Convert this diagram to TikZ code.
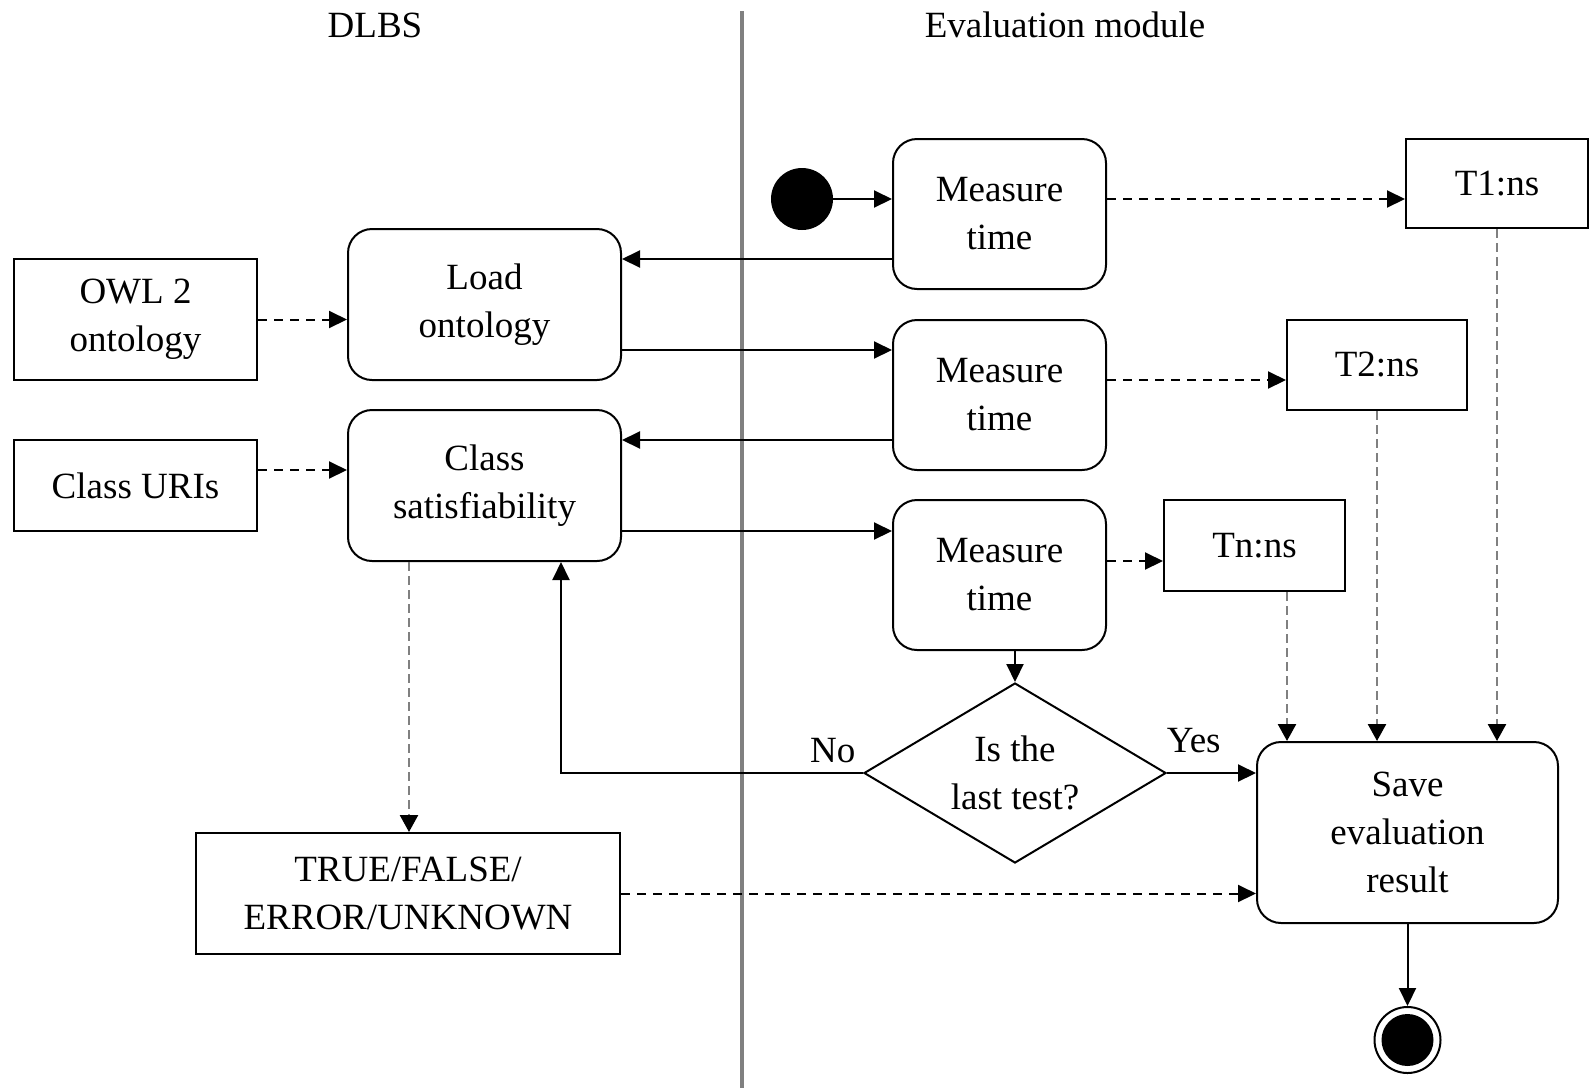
\documentclass[tikz,border=0pt]{standalone}
\usepackage{fontspec}
\setmainfont{Liberation Serif}
\usetikzlibrary{shapes.geometric,arrows.meta}

\tikzset{
  act/.style={draw, line width=2pt, rounded corners=24pt, align=center, inner sep=0pt},
  obj/.style={draw, line width=2pt, align=center, inner sep=0pt},
  flow/.style={line width=2pt, -{Triangle[length=18pt,width=17pt]}},
  data/.style={flow, dash pattern=on 9pt off 7pt},
  gdata/.style={line width=2.5pt, draw=gray, dash pattern=on 9pt off 5pt,
    -{Triangle[length=17pt,width=18pt,color=black]}}
}

\begin{document}
\begin{tikzpicture}[x=1pt, y=-1pt, font=\fontsize{37}{48}\selectfont]
    \useasboundingbox (0,0) rectangle (1591,1088);
    % swimlanes
    \draw[gray, line width=4pt] (742,11) -- (742,1088);
    \node (dlbs) at (375,25) {DLBS};
    \node (eval) at (1065,25) {Evaluation module};

    % DLBS side
    \node[obj, minimum width=243pt, minimum height=121pt] (owl) at (135.5,319.5) {OWL 2\\ontology};
    \node[obj, minimum width=243pt, minimum height=91pt] (uris) at (135.5,485.5) {Class URIs};
    \node[act, minimum width=273pt, minimum height=151pt] (load) at (484.5,304.5) {Load\\ontology};
    \node[act, minimum width=273pt, minimum height=151pt] (sat) at (484.5,485.5) {Class\\satisfiability};
    \node[obj, minimum width=424pt, minimum height=121pt] (res) at (408,893.5) {TRUE/FALSE/\\ERROR/UNKNOWN};

    % evaluation side
    \node[circle, fill=black, minimum size=62pt, inner sep=0pt] (init) at (802,199) {};
    \node[act, minimum width=213pt, minimum height=150pt] (mt1) at (999.5,214) {Measure\\time};
    \node[act, minimum width=213pt, minimum height=150pt] (mt2) at (999.5,395) {Measure\\time};
    \node[act, minimum width=213pt, minimum height=150pt] (mt3) at (999.5,575) {Measure\\time};
    \node[obj, minimum width=182pt, minimum height=89pt] (t1) at (1497,183.5) {T1:ns};
    \node[obj, minimum width=180pt, minimum height=90pt] (t2) at (1377,365) {T2:ns};
    \node[obj, minimum width=181pt, minimum height=91pt] (tn) at (1254.5,545.5) {Tn:ns};
    \node[diamond, aspect=1.68, draw, line width=2pt, minimum width=302pt, minimum height=180pt, inner sep=0pt, align=center] (test) at (1015,773) {Is the\\last test?};
    \node[act, minimum width=301pt, minimum height=181pt] (save) at (1407.5,832.5) {Save\\evaluation\\result};
    \node[circle, draw, line width=2pt, minimum size=66pt, inner sep=0pt,
      path picture={\fill (path picture bounding box.center) circle (26pt);}] (fin) at (1407.5,1040) {};

    % control flow
    \draw[flow] (init.east) -- (init.east -| mt1.west);
    \draw[flow] ([yshift=-45pt]mt1.west) coordinate (a1) -- (a1 -| load.east);
    \draw[flow] ([yshift=-45.5pt]load.east) coordinate (a2) -- (a2 -| mt2.west);
    \draw[flow] ([yshift=-45pt]mt2.west) coordinate (a3) -- (a3 -| sat.east);
    \draw[flow] ([yshift=-45.5pt]sat.east) coordinate (a4) -- (a4 -| mt3.west);
    \draw[flow] (test.north |- mt3.south) -- (test.north);
    \draw[flow] (test.east) -- (test.east -| save.west) node[pos=0.3, above=16pt] {Yes};
    \draw[flow] (test.west) -| ([xshift=76.5pt]sat.south) node[pos=0.05, above=6pt] {No};
    \draw[flow] (save.south) -- (fin.north);

    % object flow
    \draw[data] (owl.east) -- (owl.east -| load.west);
    \draw[data] ([yshift=15.5pt]uris.east) coordinate (b1) -- (b1 -| sat.west);
    \draw[data] ([yshift=15pt]mt1.east) coordinate (b2) -- (b2 -| t1.west);
    \draw[data] ([yshift=15pt]mt2.east) coordinate (b3) -- (b3 -| t2.west);
    \draw[data] ([yshift=14pt]mt3.east) coordinate (b4) -- (b4 -| tn.west);
    \draw[data] (res.east) -- (res.east -| save.west);
    \draw[gdata] ([xshift=-75.5pt]sat.south) -- ([xshift=-75.5pt]sat.south |- res.north);
    \draw[gdata] (t1.south) -- (t1.south |- save.north);
    \draw[gdata] (t2.south) -- (t2.south |- save.north);
    \draw[gdata] ([xshift=32.5pt]tn.south) -- ([xshift=32.5pt]tn.south |- save.north);
\end{tikzpicture}
\end{document}
